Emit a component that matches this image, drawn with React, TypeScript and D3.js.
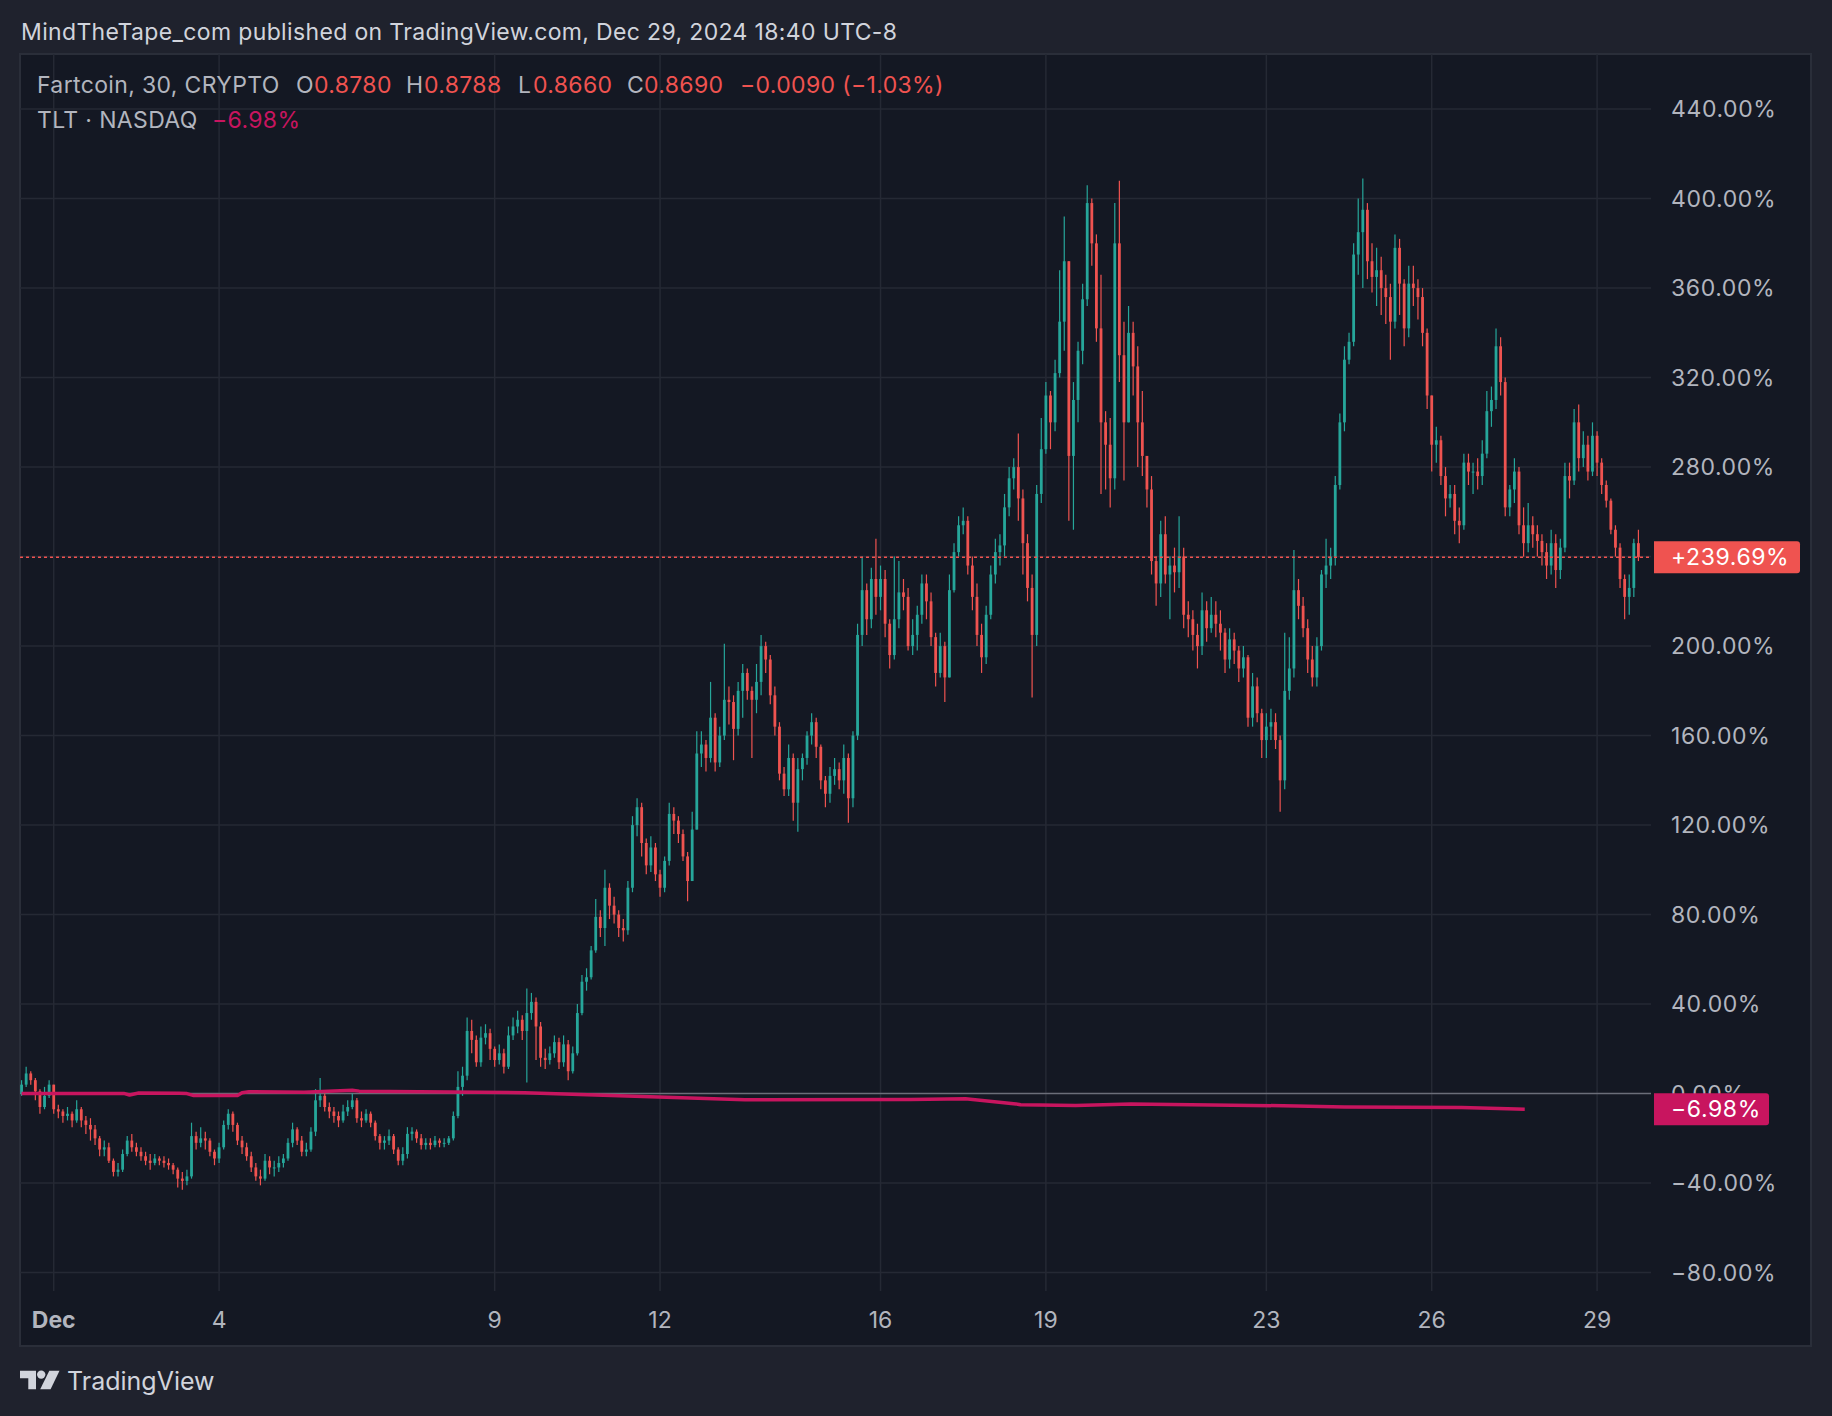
import React, { useEffect, useRef } from 'react';
import * as d3 from 'd3';

const W = 1832;
const H = 1416;
const FONT = "Inter, 'Noto Sans', 'DejaVu Sans', sans-serif";

// Fartcoin 2h candles from Nov 30 10:00, percent change vs first bar (open = previous close)
const firstOpen = 0;
const closes = [
  4, 9, 6, 1, -6, -1, 4, // Nov 30
  -7, -8, -10, -9, -12, -7, -12, -14, -16, -20, -25, -24,
  -30, -35, -34, -27, -21, -24, -26, -28, -30, -31, -29, -30,
  -31, -32, -34, -38, -39, -37, -19, -22, -20, -21, -26, -29,
  -24, -14, -9, -14, -21, -24, -28, -33, -37, -38, -30, -33,
  -33, -31, -29, -22, -16, -21, -26, -25, -17, -3, -1, -6,
  -8, -10, -12, -8, -6, -3, -11, -12, -9, -13, -19, -22,
  -21, -19, -25, -30, -27, -18, -17, -20, -23, -22, -23, -21,
  -22, -22, -20, -10, 3, 8, 28, 24, 14, 25, 27, 20,
  15, 18, 12, 26, 30, 33, 28, 36, 41, 30, 16, 15,
  18, 23, 14, 22, 10, 18, 36, 50, 52, 64, 79, 74,
  92, 84, 80, 74, 73, 92, 120, 128, 112, 102, 110, 98,
  92, 104, 125, 122, 116, 106, 95, 118, 152, 156, 150, 168,
  148, 160, 176, 175, 163, 180, 188, 180, 176, 184, 200, 194,
  178, 164, 143, 136, 150, 130, 145, 150, 160, 166, 155, 140,
  134, 142, 145, 140, 150, 132, 160, 205, 225, 212, 230, 222,
  230, 210, 196, 212, 224, 222, 200, 205, 214, 228, 220, 204,
  188, 200, 186, 225, 242, 254, 256, 236, 222, 205, 195, 214,
  232, 242, 245, 262, 275, 280, 266, 246, 226, 205, 268, 288,
  312, 300, 322, 345, 372, 285, 310, 332, 355, 398, 380, 342,
  300, 290, 275, 380, 330, 300, 340, 325, 300, 285, 270, 238,
  228, 250, 232, 236, 233, 240, 214, 212, 205, 200, 216, 208,
  214, 210, 206, 194, 203, 198, 190, 195, 168, 182, 170, 158,
  164, 166, 158, 140, 180, 190, 225, 218, 208, 194, 186, 200,
  232, 236, 240, 272, 300, 328, 336, 375, 385, 395, 372, 365,
  368, 360, 356, 345, 378, 362, 342, 362, 360, 356, 340, 312,
  290, 292, 276, 266, 268, 256, 254, 282, 278, 278, 276, 286,
  305, 310, 334, 318, 262, 270, 278, 254, 246, 254, 250, 247,
  242, 236, 246, 234, 244, 276, 274, 300, 284, 290, 278, 294,
  282, 272, 265, 252, 244, 230, 222, 226, 246, 239.69, // Dec 29
];
const highs = [
  6, 12, 10, 7, 2, 3, 6,
  4, -5, -7, -6, -8, -3, -6, -10, -11, -14, -19, -21,
  -22, -29, -31, -25, -19, -18, -22, -24, -26, -27, -27, -28,
  -28, -29, -31, -33, -35, -34, -13, -17, -15, -17, -20, -25,
  -22, -12, -7, -8, -13, -19, -22, -26, -31, -34, -27, -28,
  -30, -28, -27, -20, -13, -15, -19, -22, -15, 2, 7, 0,
  -4, -6, -8, -5, -3, 0, -2, -8, -7, -8, -12, -18,
  -19, -16, -18, -24, -24, -15, -15, -16, -18, -20, -20, -19,
  -20, -20, -19, -8, 10, 12, 34, 33, 26, 30, 31, 29,
  21, 22, 20, 30, 34, 37, 35, 47, 45, 43, 32, 20,
  21, 26, 25, 26, 24, 21, 40, 53, 56, 66, 87, 82,
  100, 94, 88, 82, 78, 95, 124, 132, 130, 114, 115, 112,
  100, 106, 130, 128, 124, 118, 108, 126, 162, 162, 158, 184,
  170, 164, 201, 182, 178, 184, 192, 190, 182, 192, 205, 202,
  196, 182, 166, 146, 156, 152, 150, 152, 162, 170, 168, 156,
  142, 146, 150, 148, 156, 152, 162, 210, 240, 228, 235, 248,
  236, 234, 212, 240, 238, 230, 226, 212, 218, 232, 232, 224,
  206, 206, 202, 232, 246, 258, 262, 258, 240, 228, 210, 218,
  236, 248, 250, 268, 280, 284, 295, 270, 250, 232, 272, 302,
  318, 314, 328, 368, 392, 330, 318, 336, 362, 406, 400, 384,
  366, 305, 302, 398, 408, 345, 352, 345, 334, 314, 284, 276,
  240, 256, 258, 240, 244, 258, 244, 220, 216, 210, 224, 220,
  222, 220, 216, 208, 208, 206, 200, 200, 196, 188, 186, 172,
  170, 172, 170, 160, 206, 204, 243, 230, 222, 212, 200, 204,
  234, 248, 244, 276, 304, 334, 340, 380, 400, 409, 398, 380,
  378, 374, 366, 362, 384, 382, 364, 370, 370, 364, 360, 342,
  312, 298, 294, 280, 272, 272, 262, 286, 286, 282, 284, 292,
  314, 316, 342, 338, 320, 272, 284, 280, 262, 264, 258, 254,
  250, 246, 252, 250, 248, 282, 282, 306, 308, 296, 294, 300,
  296, 284, 274, 266, 254, 246, 232, 232, 248, 252,
];
const lows = [
  -1, 3, 4, -3, -9, -7, -2,
  -9, -11, -13, -12, -15, -13, -15, -18, -21, -23, -28, -28,
  -31, -37, -37, -35, -28, -26, -28, -30, -32, -34, -32, -32,
  -33, -34, -36, -42, -43, -41, -38, -25, -24, -25, -28, -32,
  -31, -25, -16, -17, -23, -27, -30, -35, -39, -41, -39, -36,
  -37, -35, -33, -30, -24, -23, -28, -28, -26, -19, -6, -8,
  -11, -13, -15, -13, -10, -7, -13, -15, -13, -15, -21, -25,
  -25, -23, -27, -32, -32, -29, -21, -22, -25, -25, -25, -24,
  -24, -24, -23, -21, -11, -1, 6, 18, 12, 12, 22, 15,
  12, 13, 9, 11, 24, 27, 24, 5, 33, 15, 12, 11,
  13, 16, 11, 12, 6, 9, 17, 35, 46, 51, 63, 70,
  66, 78, 76, 70, 68, 71, 90, 115, 106, 98, 99, 95,
  88, 90, 102, 116, 112, 104, 86, 96, 118, 146, 144, 148,
  144, 146, 158, 165, 149, 160, 168, 176, 150, 170, 178, 188,
  174, 160, 140, 133, 133, 122, 117, 140, 147, 156, 150, 136,
  128, 130, 138, 136, 134, 121, 128, 158, 200, 205, 208, 214,
  216, 204, 190, 194, 208, 216, 198, 196, 198, 210, 212, 200,
  182, 186, 175, 196, 224, 240, 250, 232, 216, 200, 188, 192,
  212, 228, 236, 240, 258, 270, 256, 232, 220, 177, 200, 264,
  286, 288, 296, 320, 332, 256, 252, 300, 326, 352, 370, 336,
  268, 270, 262, 270, 318, 274, 300, 312, 280, 276, 262, 232,
  218, 222, 228, 212, 224, 226, 208, 204, 198, 190, 196, 202,
  206, 204, 198, 188, 190, 192, 184, 186, 164, 164, 166, 150,
  150, 158, 154, 126, 136, 176, 186, 212, 204, 188, 182, 182,
  198, 226, 230, 236, 270, 296, 326, 334, 366, 360, 364, 358,
  352, 348, 344, 328, 342, 348, 334, 338, 352, 346, 334, 306,
  278, 282, 272, 258, 262, 250, 246, 252, 272, 268, 270, 272,
  284, 298, 306, 312, 258, 258, 264, 250, 240, 242, 244, 240,
  236, 230, 232, 226, 230, 242, 266, 272, 278, 280, 274, 276,
  276, 268, 262, 250, 240, 226, 212, 214, 222, 238,
];

// TLT compare series (percent)
const tltTimes = [
  "2024-11-30T10:00", "2024-12-02T06:30", "2024-12-02T09:00", "2024-12-02T13:00",
  "2024-12-03T06:30", "2024-12-03T10:00", "2024-12-03T13:00", "2024-12-04T08:00",
  "2024-12-04T10:00", "2024-12-04T13:00", "2024-12-05T13:00", "2024-12-06T10:00",
  "2024-12-06T13:00", "2024-12-09T13:00", "2024-12-10T13:00", "2024-12-11T13:00",
  "2024-12-12T13:00", "2024-12-13T13:00", "2024-12-16T13:00", "2024-12-17T13:00",
  "2024-12-18T11:00", "2024-12-18T13:00", "2024-12-19T13:00", "2024-12-20T13:00",
  "2024-12-23T13:00", "2024-12-24T10:00", "2024-12-26T13:00", "2024-12-27T13:00",
  "2024-12-27T16:30",
];
const tltValues = [
  0, 0.1, -0.6, 0.3,
  0.2, 0, -0.9, -0.9,
  0.4, 0.8, 0.6, 1.5,
  1.1, 0.4, -0.4, -1.2,
  -2.0, -2.8, -2.6, -2.3,
  -4.6, -5.0, -5.3, -4.7,
  -5.5, -6.0, -6.2, -6.9,
  -6.98,
];

const priceTicks = [-80, -40, 0, 40, 80, 120, 160, 200, 240, 280, 320, 360, 400, 440];
const dateTicks = ["2024-12-01T00:00", "2024-12-04T00:00", "2024-12-09T00:00", "2024-12-12T00:00", "2024-12-16T00:00", "2024-12-19T00:00", "2024-12-23T00:00", "2024-12-26T00:00", "2024-12-29T00:00"];
const dateLabels = ["Dec", "4", "9", "12", "16", "19", "23", "26", "29"];

const lastPct = 239.69;
const lastTlt = -6.98;

const UP = "#26a69a";
const DOWN = "#ef5350";
const TLT_COLOR = "#c8155f";

const fmtPct = (v: number) => (v < 0 ? "\u2212" : "") + Math.abs(v).toFixed(2) + "%";

const TradingChart: React.FC = () => {
  const svgRef = useRef<SVGSVGElement>(null);

  useEffect(() => {
    if (!svgRef.current) return;
    const svg = d3.select(svgRef.current);
    svg.selectAll("*").remove();

    const plot = { left: 20, top: 54, right: 1651, bottom: 1291 };

    const x = d3.scaleTime()
      .domain([new Date(2024, 10, 30), new Date(2024, 11, 30)])
      .range([-1.4, 1652.2]);
    const y = d3.scaleLinear().domain([-80, 440]).range([1272.6, 109.1]);

    // backgrounds
    svg.append("rect").attr("width", W).attr("height", H).attr("fill", "#1f222d");
    svg.append("rect")
      .attr("x", 20).attr("y", 54).attr("width", 1791).attr("height", 1292)
      .attr("fill", "#141823").attr("stroke", "#2a2e39").attr("stroke-width", 2);

    const defs = svg.append("defs");
    defs.append("clipPath").attr("id", "plotClip")
      .append("rect")
      .attr("x", plot.left).attr("y", plot.top)
      .attr("width", plot.right - plot.left).attr("height", plot.bottom - plot.top);

    // grid
    const grid = svg.append("g");
    grid.selectAll("line.h").data(priceTicks.filter(v => v !== 0)).join("line")
      .attr("x1", plot.left).attr("x2", plot.right)
      .attr("y1", d => y(d)).attr("y2", d => y(d))
      .attr("stroke", "#252934").attr("stroke-width", 1.5);
    grid.selectAll("line.v").data(dateTicks).join("line")
      .attr("x1", d => x(new Date(d))).attr("x2", d => x(new Date(d)))
      .attr("y1", plot.top).attr("y2", plot.bottom)
      .attr("stroke", "#252934").attr("stroke-width", 1.5);

    // zero baseline
    svg.append("line")
      .attr("x1", plot.left).attr("x2", plot.right)
      .attr("y1", y(0)).attr("y2", y(0))
      .attr("stroke", "#6b6e79").attr("stroke-width", 1.5);

    // candles
    const start = new Date(2024, 10, 30, 10);
    const candles = closes.map((c, i) => {
      const o = i === 0 ? firstOpen : closes[i - 1];
      return {
        t: d3.timeHour.offset(start, i * 2),
        o,
        c,
        h: Math.max(highs[i], o, c),
        l: Math.min(lows[i], o, c),
      };
    });

    const gCandles = svg.append("g").attr("clip-path", "url(#plotClip)");
    gCandles.selectAll("line").data(candles).join("line")
      .attr("x1", d => x(d.t)).attr("x2", d => x(d.t))
      .attr("y1", d => y(d.h)).attr("y2", d => y(d.l))
      .attr("stroke", d => (d.c >= d.o ? UP : DOWN))
      .attr("stroke-width", 1.2);
    gCandles.selectAll("rect").data(candles).join("rect")
      .attr("x", d => x(d.t) - 1.4)
      .attr("width", 2.8)
      .attr("y", d => y(Math.max(d.o, d.c)))
      .attr("height", d => Math.max(1, Math.abs(y(d.o) - y(d.c))))
      .attr("fill", d => (d.c >= d.o ? UP : DOWN));

    // TLT line
    const tlt = tltTimes.map((t, i) => ({ t: new Date(t), v: tltValues[i] }));
    const line = d3.line<{ t: Date; v: number }>().x(d => x(d.t)).y(d => y(d.v));
    svg.append("path")
      .attr("clip-path", "url(#plotClip)")
      .attr("d", line(tlt) as string)
      .attr("fill", "none")
      .attr("stroke", TLT_COLOR)
      .attr("stroke-width", 3.5)
      .attr("stroke-linejoin", "round");

    // last price dotted line
    svg.append("line")
      .attr("x1", plot.left).attr("x2", plot.right)
      .attr("y1", y(lastPct)).attr("y2", y(lastPct))
      .attr("stroke", DOWN).attr("stroke-width", 1.5)
      .attr("stroke-dasharray", "3,3");

    // price axis labels (the one under the last-price badge is hidden, as in TradingView)
    svg.append("g").selectAll("text")
      .data(priceTicks.filter(v => Math.abs(y(v) - y(lastPct)) > 20))
      .join("text")
      .attr("x", 1671).attr("y", d => y(d))
      .attr("dominant-baseline", "central")
      .attr("font-family", FONT).attr("font-size", 23)
      .attr("letter-spacing", 0.6)
      .attr("fill", "#b2b5be")
      .text(d => fmtPct(d));

    // time axis labels
    svg.append("g").selectAll("text").data(dateTicks).join("text")
      .attr("x", d => x(new Date(d))).attr("y", 1328)
      .attr("text-anchor", "middle")
      .attr("font-family", FONT).attr("font-size", 23)
      .attr("font-weight", (_d, i) => (i === 0 ? 700 : 400))
      .attr("fill", "#b2b5be")
      .text((_d, i) => dateLabels[i]);

    // value badges
    const badge = (v: number, w: number, color: string, label: string) => {
      const cy = y(v);
      svg.append("path")
        .attr("d", `M1654,${cy - 16}H${1654 + w - 3}Q${1654 + w},${cy - 16} ${1654 + w},${cy - 13}V${cy + 13}Q${1654 + w},${cy + 16} ${1654 + w - 3},${cy + 16}H1654Z`)
        .attr("fill", color);
      svg.append("text")
        .attr("x", 1671).attr("y", cy)
        .attr("dominant-baseline", "central")
        .attr("font-family", FONT).attr("font-size", 23)
        .attr("letter-spacing", 0.6)
        .attr("fill", "#ffffff")
        .text(label);
    };
    badge(lastPct, 146, DOWN, "+" + lastPct.toFixed(2) + "%");
    badge(lastTlt, 115, TLT_COLOR, fmtPct(lastTlt));

    // header
    svg.append("text")
      .attr("x", 21).attr("y", 40)
      .attr("font-family", FONT).attr("font-size", 23)
      .attr("letter-spacing", 0.35)
      .attr("fill", "#d1d4dc")
      .text("MindTheTape_com published on TradingView.com, Dec 29, 2024 18:40 UTC-8");

    const legend = [
      { x: 37, y: 93, t: "Fartcoin, 30, CRYPTO", c: "#b2b5be" },
      { x: 296, y: 93, t: "O", c: "#b2b5be" },
      { x: 314, y: 93, t: "0.8780", c: DOWN },
      { x: 406, y: 93, t: "H", c: "#b2b5be" },
      { x: 424, y: 93, t: "0.8788", c: DOWN },
      { x: 518, y: 93, t: "L", c: "#b2b5be" },
      { x: 533, y: 93, t: "0.8660", c: DOWN },
      { x: 627, y: 93, t: "C", c: "#b2b5be" },
      { x: 644, y: 93, t: "0.8690", c: DOWN },
      { x: 740, y: 93, t: "\u22120.0090 (\u22121.03%)", c: DOWN },
      { x: 37, y: 128, t: "TLT \u00b7 NASDAQ", c: "#b2b5be" },
      { x: 212, y: 128, t: "\u22126.98%", c: TLT_COLOR },
    ];
    svg.append("g").selectAll("text").data(legend).join("text")
      .attr("x", d => d.x).attr("y", d => d.y)
      .attr("font-family", FONT).attr("font-size", 23)
      .attr("letter-spacing", 0.35)
      .attr("fill", d => d.c)
      .text(d => d.t);

    // TradingView logo
    const logo = svg.append("g").attr("fill", "#d1d4dc");
    logo.append("path").attr("d", "M20,1370.7H36V1389.3H28.3V1378.3H20Z");
    logo.append("circle").attr("cx", 41.2).attr("cy", 1374.6).attr("r", 4.2);
    logo.append("path").attr("d", "M49.3,1370.7H59.5L50.6,1389.3H40.2Z");
    svg.append("text")
      .attr("x", 67).attr("y", 1390)
      .attr("font-family", FONT).attr("font-size", 25)
      .attr("fill", "#d1d4dc")
      .text("TradingView");
  }, []);

  return (
    <div style={{ position: 'absolute', left: 0, top: 0 }}>
      <svg ref={svgRef} width={W} height={H} style={{ display: 'block' }}></svg>
    </div>
  );
};

export default function App() {
  return <TradingChart />;
}
